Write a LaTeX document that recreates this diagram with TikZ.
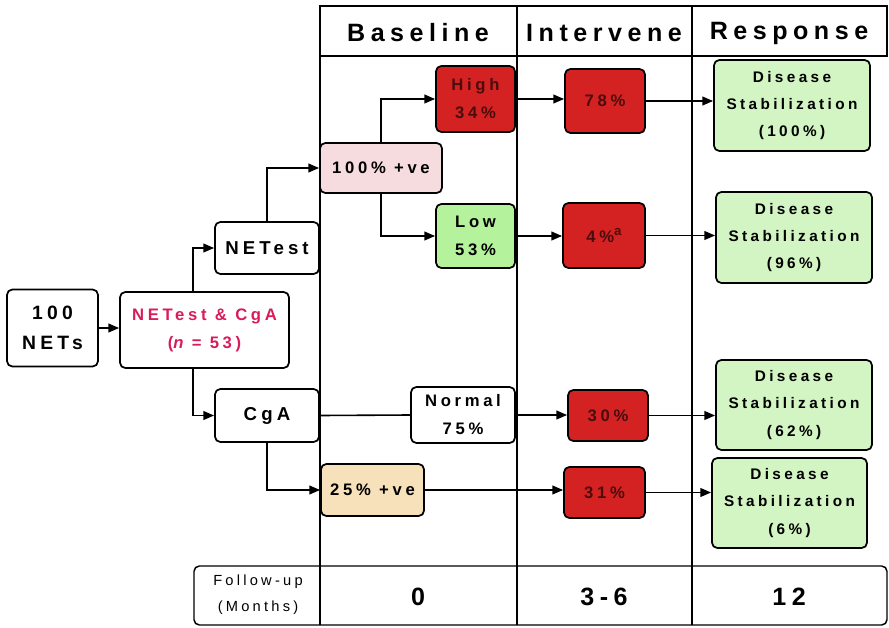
\documentclass[tikz,border=0pt]{standalone}
\usepackage{fontspec}
\setmainfont{Liberation Sans}
\newfontfamily\spaced[LetterSpace=22]{Liberation Sans}
\usetikzlibrary{arrows.meta}
\definecolor{boxred}{HTML}{D42222}
\definecolor{redtext}{HTML}{4A0C0C}
\definecolor{pospink}{HTML}{F6DCDF}
\definecolor{postan}{HTML}{F7E1BA}
\definecolor{lowgreen}{HTML}{B5F29C}
\definecolor{respgreen}{HTML}{D3F4C3}
\definecolor{combotext}{HTML}{D81B5C}
\begin{document}
\begin{tikzpicture}[x=0.75pt, y=-0.75pt, >={Triangle[length=8pt,width=6.5pt]}, line width=1.2pt,
  every edge/.style={draw, line width=1.2pt},
  main node/.style={draw, rounded corners=4pt, line width=1.3pt, align=center, inner sep=0pt,
    font=\spaced\bfseries\fontsize{12.5}{21}\selectfont},
  box size/.style 2 args={minimum width=#1*0.75pt, minimum height=#2*0.75pt},
  red node/.style={main node, fill=boxred, text=redtext},
  resp node/.style={main node, fill=respgreen, box size={156}{91}, font=\spaced\bfseries\fontsize{11.5}{20.5}\selectfont},
  head/.style={font=\spaced\bfseries\fontsize{18.8}{22}\selectfont},
  grid/.style={line width=1.1pt}]
\useasboundingbox (0,0) rectangle (889,628);
% table frame
\draw [grid] (320,6) rectangle (887,56);
\draw [grid, rounded corners=4pt] (194,566) rectangle (887,625);
\foreach \x in {320,517,692}
  \draw [grid] (\x,6) -- (\x,625);
\node [head] (hbase) at (418,33) {Baseline};
\node [head] (hint) at (604,33) {Intervene};
\node [head] (hresp) at (789,33) {Response};
\node [font=\spaced\fontsize{11}{19.5}\selectfont, align=center] (follow) at (258,595) {Follow-up\\(Months)};
\node [head] (m0) at (418,597) {0};
\node [head] (m36) at (604,597) {3-6};
\node [head] (m12) at (789,597) {12};
% boxes
\node [main node, box size={91}{77}, font=\spaced\bfseries\fontsize{14.5}{23}\selectfont] (nets) at (52.5,328) {100\\NETs};
\node [main node, box size={169}{76}, text=combotext] (combo) at (204.5,330) {NETest \& CgA\\({\itshape n} = 53)};
\node [main node, box size={104}{52}, font=\spaced\bfseries\fontsize{14}{21}\selectfont] (netest) at (267,248) {NETest};
\node [main node, box size={104}{53}, font=\spaced\bfseries\fontsize{14}{21}\selectfont] (cga) at (267,415.5) {CgA};
\node [main node, box size={122}{50}, fill=pospink] (pos) at (381,168) {100\% +ve};
\node [red node, box size={79}{66}] (high) at (475.5,99) {High\\34\%};
\node [main node, box size={79}{64}, fill=lowgreen] (low) at (475.5,236) {Low\\53\%};
\node [main node, box size={104}{56}, fill=white] (normal) at (463,415) {Normal\\75\%};
\node [main node, box size={103}{52}, fill=postan] (cgapos) at (372.5,490) {25\% +ve};
\node [red node, box size={80}{64}] (r78) at (605,101) {78\%};
\node [red node, box size={82}{65}] (r4) at (604,235.5) {4\%\raisebox{0.45em}{\fontsize{10}{10}\selectfont a}};
\node [red node, box size={80}{51}] (r30) at (608,415.5) {30\%};
\node [red node, box size={81}{51}] (r31) at (604.5,492.5) {31\%};
\node [resp node] (s100) at (792,105.5) {Disease\\Stabilization\\(100\%)};
\node [resp node] (s96) at (794,237.5) {Disease\\Stabilization\\(96\%)};
\node [resp node, minimum height=90*0.75pt] (s62) at (794,405) {Disease\\Stabilization\\(62\%)};
\node [resp node, minimum width=155*0.75pt, minimum height=90*0.75pt] (s6) at (789.5,503) {Disease\\Stabilization\\(6\%)};
% connectors
\draw [->] ([xshift=-8.6pt]combo.north) |- (netest.west);
\draw [->] ([xshift=-8.6pt]combo.south) |- (cga.west);
\draw [->] (netest.north) |- (pos.west);
\draw [->] (pos.north) |- (high.west);
\draw [->] (pos.south) |- (low.west);
\draw [->] (cga.south) |- (cgapos.west);
\path
    (nets.east) edge [->] (nets.east -| combo.west)
    (cga.east) edge (normal.west)
    (high.east) edge [->] (high.east -| r78.west)
    (low.east) edge [->] (low.east -| r4.west)
    (normal.east) edge [->] (normal.east -| r30.west)
    (cgapos.east) edge [->] (cgapos.east -| r31.west)
    (r78.east) edge [->] (r78.east -| s100.west)
    (r4.east) edge [->] (r4.east -| s96.west)
    (r30.east) edge [->] (r30.east -| s62.west)
    (r31.east) edge [->] (r31.east -| s6.west)
    ;
\end{tikzpicture}
\end{document}
